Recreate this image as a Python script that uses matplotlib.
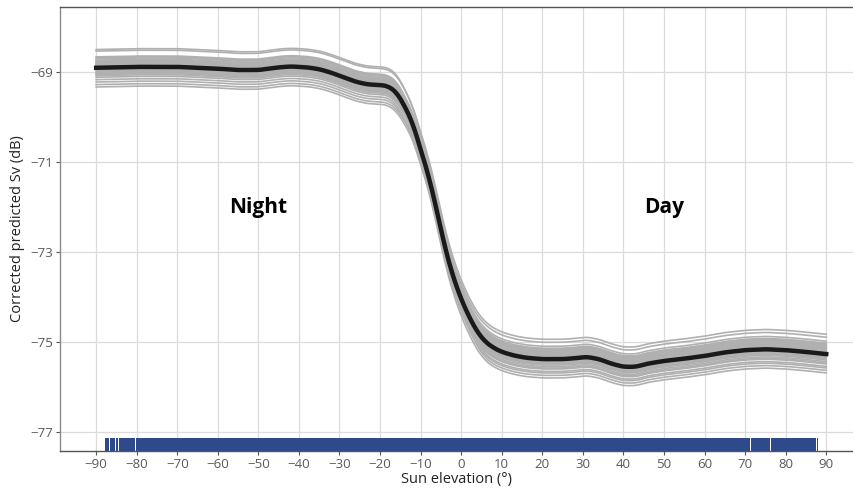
import numpy as np
import matplotlib.pyplot as plt
import matplotlib.transforms as mtransforms

# mean smooth (sun elevation in degrees, corrected predicted Sv in dB)
elev = [-90, -85, -80, -75, -70, -65, -60, -55, -50, -45, -42, -38, -35, -32, -29,
        -26, -23, -20, -18, -16, -14, -12, -10, -8, -6, -4, -2, 0, 2, 4, 6, 8, 10,
        13, 16, 20, 25, 28, 31, 34, 37, 40, 43, 46, 50, 55, 60, 65, 70, 75, 80, 85, 90]
sv_mean = [-68.91, -68.90, -68.89, -68.89, -68.89, -68.91, -68.93, -68.96, -68.96,
           -68.90, -68.88, -68.90, -68.94, -69.02, -69.12, -69.22, -69.28, -69.29,
           -69.32, -69.45, -69.75, -70.13, -70.72, -71.32, -72.08, -72.90, -73.55,
           -74.05, -74.45, -74.78, -75.00, -75.13, -75.22, -75.30, -75.35, -75.38,
           -75.38, -75.36, -75.33, -75.38, -75.48, -75.55, -75.55, -75.48, -75.42,
           -75.37, -75.31, -75.23, -75.18, -75.16, -75.18, -75.22, -75.27]

# bootstrap replicates: relative position within the spread, night side and day side
boot_night = [0.92, 0.84, 0.55, 0.45, 0.38, 0.30, 0.25, 0.18, 0.12, 0.08, 0.03, -0.02,
              -0.07, -0.12, -0.17, -0.22, -0.28, -0.34, -0.40, -0.48, -0.60, -0.72,
              -0.85, -0.97, 0.50, -0.30, 0.15, 0.35, -0.10, 0.22]
boot_day = [0.45, 1.00, 0.30, 0.85, 0.15, 0.50, 0.05, 0.38, -0.05, 0.25, -0.15, 0.55,
            -0.25, 0.02, -0.38, 0.33, -0.50, -0.10, -0.70, 0.20, -0.95, -0.30, 0.42,
            -0.20, -0.62, 0.10, -0.82, 0.65, -0.45, 0.12]
spread = 0.44

# rug of observations (solid runs between small gaps)
rug_start = [-87.7, -86.55, -85.0, -84.3, -80.05, 71.45, 76.45, 87.75]
rug_end = [-86.8, -85.25, -84.55, -80.3, 71.2, 76.2, 87.5, 88.0]

xticks = list(range(-90, 91, 10))
yticks = [-69, -71, -73, -75, -77]

plt.rcParams['font.family'] = ['Open Sans', 'DejaVu Sans']

fig = plt.figure(figsize=(8.54, 4.93), dpi=100)
ax = fig.add_axes([0.0703, 0.0852, 0.929, 0.9006])

xs = np.linspace(-90, 90, 721)
k = np.ones(9) / 9


def smooth(y):
    yp = np.concatenate([np.full(4, y[0]), y, np.full(4, y[-1])])
    return np.convolve(yp, k, mode='valid')


mean_fine = smooth(np.interp(xs, elev, sv_mean))
for on, od in zip(boot_night, boot_day):
    off = smooth(np.interp(xs, [-90, -16, 6, 90], [on, on, od, od])) * spread
    ax.plot(xs, mean_fine + off, color='#b0b0b0', lw=1.2, zorder=2)
ax.plot(xs, mean_fine, color='#1a1a1a', lw=3.2, zorder=3)

trans = mtransforms.blended_transform_factory(ax.transData, ax.transAxes)
segs = [(s, e - s) for s, e in zip(rug_start, rug_end)]
ax.broken_barh(segs, (0, 0.03), transform=trans, color='#2e4a8b', zorder=4,
               linewidth=0)

ax.text(-50, -72.02, 'Night', fontsize=15, fontweight='bold', ha='center', va='center')
ax.text(50, -72.02, 'Day', fontsize=15, fontweight='bold', ha='center', va='center')

ax.set_xlim(-98.9, 96.7)
ax.set_ylim(-77.42, -67.56)
ax.set_xticks(xticks)
ax.set_yticks(yticks)
ax.set_xticklabels([str(t).replace('-', '\u2212') for t in xticks])
ax.set_yticklabels([str(t).replace('-', '\u2212') for t in yticks])
ax.grid(True, color='#dcdcdc', lw=0.9, zorder=0)
ax.set_axisbelow(True)
ax.tick_params(colors='#555555', labelsize=9.5, length=3, width=0.8, pad=2)
ax.tick_params(axis='both', labelcolor='#595959')

for side in ['left', 'bottom', 'top']:
    ax.spines[side].set_color('#555555')
    ax.spines[side].set_linewidth(1.0)
ax.spines['left'].set_color('#8a8a8a')
ax.spines['right'].set_visible(False)

ax.set_xlabel('Sun elevation (°)', fontsize=10.5, color='#222222', labelpad=1)
ax.set_ylabel('Corrected predicted Sv (dB)', fontsize=10.5, color='#222222', labelpad=4)

fig.savefig('out.png', dpi=100)
